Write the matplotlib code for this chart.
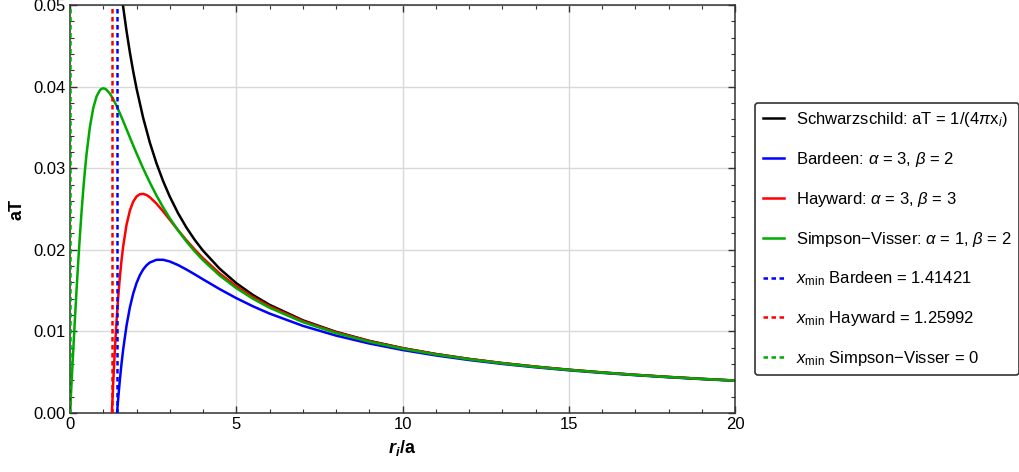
import numpy as np
from matplotlib import pyplot as plt
from matplotlib.ticker import MultipleLocator

plt.rcParams['font.family'] = ['Liberation Sans', 'DejaVu Sans']
plt.rcParams['mathtext.fontset'] = 'custom'
plt.rcParams['mathtext.rm'] = 'Liberation Sans'
plt.rcParams['mathtext.it'] = 'Liberation Sans:italic'
plt.rcParams['mathtext.bf'] = 'Liberation Sans:bold:italic'

#==============================================================================
# data (aT vs r_i/a)

x_sv = [0, 0.05, 0.1, 0.15, 0.2, 0.25, 0.3, 0.35, 0.4, 0.45, 0.5, 0.6, 0.7,
        0.8, 0.9, 0.95, 1.0, 1.05, 1.1, 1.2, 1.3, 1.4, 1.5, 1.6, 1.7, 1.8,
        1.9, 2.0, 2.2, 2.4, 2.6, 2.8, 3.0, 3.25, 3.5, 3.75, 4, 4.5, 5, 5.5, 6,
        7, 8, 9, 10, 11, 12, 13, 14, 15, 16, 17, 18, 19, 20]
t_sv = [0, 0.003969, 0.007879, 0.011674, 0.015303, 0.018724, 0.021902,
        0.024813, 0.027441, 0.029780, 0.031831, 0.035108, 0.037385, 0.038818,
        0.039569, 0.039736, 0.039789, 0.039741, 0.039609, 0.039136, 0.038457,
        0.037638, 0.036728, 0.035765, 0.034777, 0.033783, 0.032798, 0.031831,
        0.029977, 0.028252, 0.026662, 0.025205, 0.023873, 0.022368, 0.021020,
        0.019812, 0.018724, 0.016852, 0.015303, 0.014006, 0.012904, 0.011141,
        0.009794, 0.008734, 0.007879, 0.007175, 0.006586, 0.006085, 0.005655,
        0.005282, 0.004954, 0.004665, 0.004407, 0.004177, 0.003969]

x_sch = [1.5, 1.6, 1.7, 1.8, 1.9, 2.0, 2.2, 2.4, 2.6, 2.8, 3.0, 3.25, 3.5,
         3.75, 4, 4.5, 5, 5.5, 6, 7, 8, 9, 10, 11, 12, 13, 14, 15, 16, 17, 18,
         19, 20]
t_sch = [0.053052, 0.049736, 0.046810, 0.044210, 0.041883, 0.039789,
         0.036172, 0.033157, 0.030607, 0.028420, 0.026526, 0.024485, 0.022736,
         0.021221, 0.019894, 0.017684, 0.015915, 0.014469, 0.013263, 0.011368,
         0.009947, 0.008842, 0.007958, 0.007234, 0.006631, 0.006121, 0.005684,
         0.005305, 0.004974, 0.004681, 0.004421, 0.004188, 0.003979]

x_bar = [1.41421, 1.45, 1.5, 1.55, 1.6, 1.7, 1.8, 1.9, 2.0, 2.1, 2.2, 2.3, 2.4,
         2.6, 2.8, 3.0, 3.25, 3.5, 3.75, 4, 4.5, 5, 5.5, 6, 7, 8, 9, 10, 11,
         12, 13, 14, 15, 16, 17, 18, 19, 20]
t_bar = [0, 0.001813, 0.004081, 0.006073, 0.007824, 0.010710, 0.012929,
         0.014627, 0.015915, 0.016881, 0.017590, 0.018097, 0.018442, 0.018774,
         0.018776, 0.018568, 0.018132, 0.017588, 0.016994, 0.016383, 0.015187,
         0.014079, 0.013080, 0.012188, 0.010686, 0.009488, 0.008518, 0.007721,
         0.007056, 0.006494, 0.006013, 0.005598, 0.005235, 0.004916, 0.004633,
         0.004380, 0.004154, 0.003949]

x_hay = [1.25992, 1.3, 1.35, 1.4, 1.45, 1.5, 1.55, 1.6, 1.7, 1.8, 1.9, 2.0,
         2.1, 2.2, 2.3, 2.4, 2.6, 2.8, 3.0, 3.25, 3.5, 3.75, 4, 4.5, 5, 5.5, 6,
         7, 8, 9, 10, 11, 12, 13, 14, 15, 16, 17, 18, 19, 20]
t_hay = [0, 0.003772, 0.007842, 0.011295, 0.014214, 0.016673, 0.018736,
         0.020456, 0.023061, 0.024797, 0.025895, 0.026526, 0.026815, 0.026855,
         0.026716, 0.026447, 0.025664, 0.024706, 0.023684, 0.022406, 0.021182,
         0.020036, 0.018976, 0.017108, 0.015536, 0.014209, 0.013080, 0.011269,
         0.009889, 0.008806, 0.007934, 0.007218, 0.006620, 0.006113, 0.005678,
         0.005300, 0.004970, 0.004678, 0.004419, 0.004186, 0.003977]

x_min = [1.41421, 1.25992, 0]
lis_min_name = ['Bardeen', 'Hayward', 'Simpson\u2212Visser']

#==============================================================================

c_blue = '#0000ff'
c_red = '#ff0000'
c_green = '#00aa00'

fig = plt.figure(figsize=(10.19, 4.72), dpi=100)
ax = fig.add_axes([0.0687, 0.125, 0.6526, 0.8644])

lw = 1.8
ax.plot(x_sch, t_sch, color='black', lw=lw, label=r'Schwarzschild: aT = 1/(4$\pi$x$_i$)')
ax.plot(x_bar, t_bar, color=c_blue, lw=lw, label=r'Bardeen: $\alpha$ = 3, $\beta$ = 2')
ax.plot(x_hay, t_hay, color=c_red, lw=lw, label=r'Hayward: $\alpha$ = 3, $\beta$ = 3')
ax.plot(x_sv, t_sv, color=c_green, lw=lw, label=r'Simpson$-$Visser: $\alpha$ = 1, $\beta$ = 2')

lis_c = [c_blue, c_red, c_green]
for n in range(len(x_min)):
    ax.axvline(x_min[n], color=lis_c[n], lw=1.8, linestyle=(0, (1.8, 1.4)),
               zorder=3, label=r'$x_{\rm min}$ %s = %g' % (lis_min_name[n], x_min[n]))

ax.set_xlim(0, 20)
ax.set_ylim(0, 0.05)
ax.xaxis.set_major_locator(MultipleLocator(5))
ax.xaxis.set_minor_locator(MultipleLocator(1))
ax.yaxis.set_major_locator(MultipleLocator(0.01))
ax.yaxis.set_minor_locator(MultipleLocator(0.002))
ax.yaxis.set_major_formatter(plt.FormatStrFormatter('%.2f'))
ax.tick_params(which='both', direction='in', top=True, right=True,
               labelsize=12, color='#333333', pad=3)
ax.tick_params(which='major', length=5, width=1)
ax.tick_params(which='minor', length=3, width=0.8)
for sp in ax.spines.values():
    sp.set_color('#333333')
    sp.set_linewidth(1.1)
ax.grid(True, which='major', color='#d9d9d9', lw=1)
ax.set_axisbelow(True)

ax.set_xlabel(r'$\mathbf{r_i}$/a', fontsize=13, fontweight='bold', labelpad=4)
ax.set_ylabel('aT', fontsize=13, fontweight='bold', labelpad=6)

leg = ax.legend(loc='center left', bbox_to_anchor=(0.741, 0.4936),
                bbox_transform=fig.transFigure, fontsize=12,
                labelspacing=1.25, handlelength=1.3, handletextpad=0.7,
                borderpad=0.45, borderaxespad=0, frameon=True, fancybox=True,
                shadow=False)
leg.get_frame().set_edgecolor('#333333')
leg.get_frame().set_linewidth(1.2)
leg.get_frame().set_alpha(1)

plt.savefig('out.png', dpi=100)
